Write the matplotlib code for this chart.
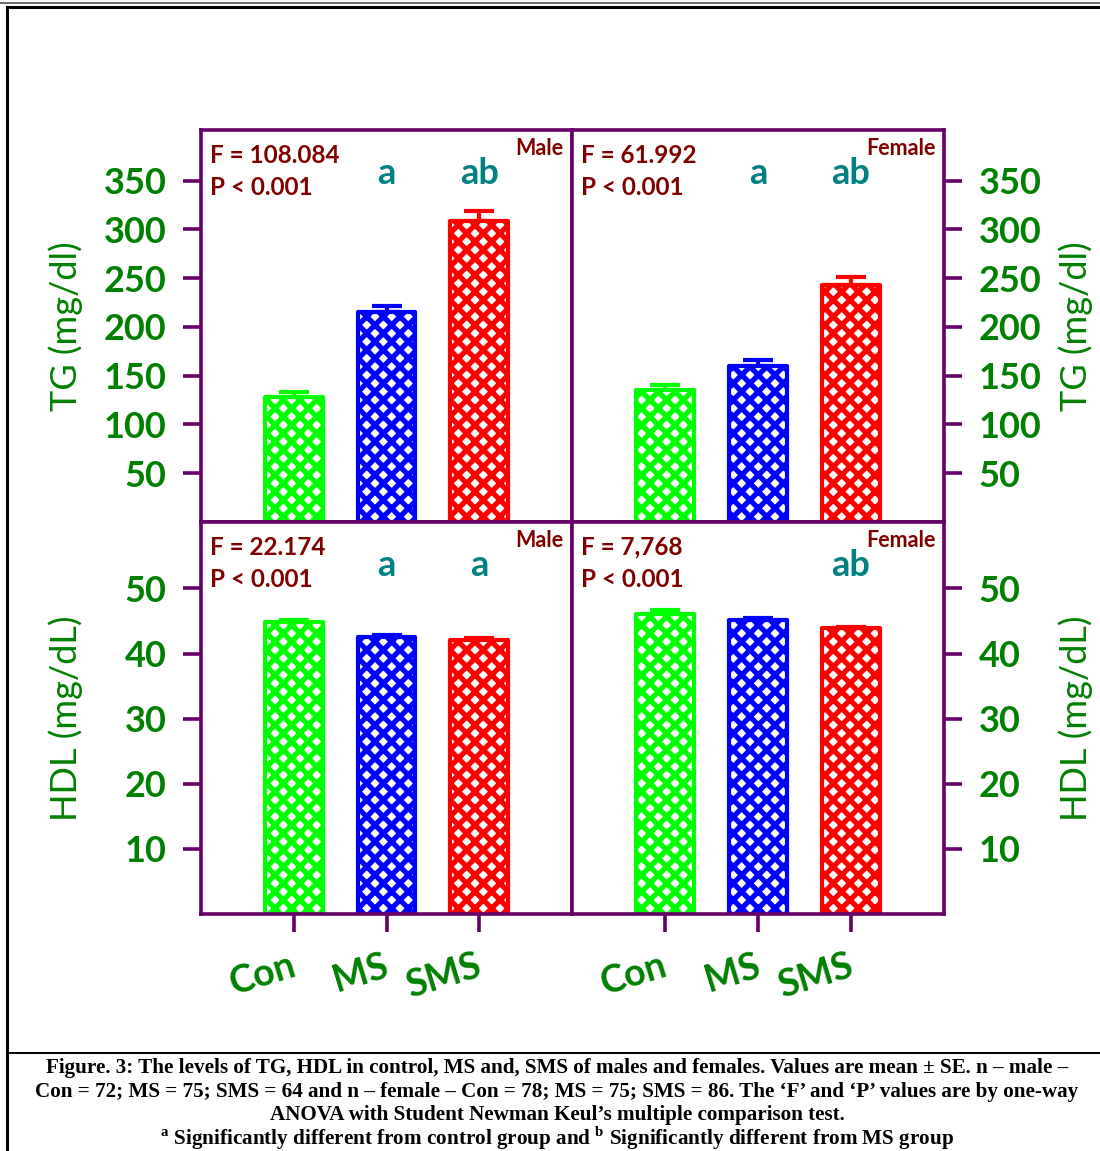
import matplotlib
matplotlib.use("Agg")
import matplotlib.pyplot as plt
import matplotlib.transforms as mtransforms
from matplotlib.lines import Line2D

# data
groups = ["Con", "MS", "SMS"]
bar_colors = ["#00ff00", "#0000ff", "#ff0000"]

tg_male = [128, 215, 309]
tg_male_se = [5, 7, 10]
tg_female = [135, 160, 243]
tg_female_se = [5, 6, 8]

hdl_male = [44.8, 42.6, 42.1]
hdl_male_se = [0.4, 0.3, 0.25]
hdl_female = [46.0, 45.2, 43.9]
hdl_female_se = [0.7, 0.25, 0.25]

sig_tg_male = ["", "a", "ab"]
sig_tg_female = ["", "a", "ab"]
sig_hdl_male = ["", "a", "a"]
sig_hdl_female = ["", "", "ab"]

stats_tg_male = ["F = 108.084", "P < 0.001"]
stats_tg_female = ["F = 61.992", "P < 0.001"]
stats_hdl_male = ["F = 22.174", "P < 0.001"]
stats_hdl_female = ["F = 7,768", "P < 0.001"]

tg_ticks = [50, 100, 150, 200, 250, 300, 350]
hdl_ticks = [10, 20, 30, 40, 50]

PURPLE = "#660066"
GREEN = "#008000"
DARKRED = "#800000"
TEAL = "#008080"

plt.rcParams["font.family"] = ["Lato", "DejaVu Sans"]
plt.rcParams["font.weight"] = "bold"
plt.rcParams["hatch.linewidth"] = 3.8
plt.rcParams["mathtext.fontset"] = "custom"
plt.rcParams["mathtext.rm"] = "Liberation Serif:bold"
plt.rcParams["mathtext.bf"] = "Liberation Serif:bold"

fig = plt.figure(figsize=(11, 11.51), dpi=100)

W, H = 1100, 1151
def box(x0, y0, x1, y1):
    return [x0 / W, 1 - y1 / H, (x1 - x0) / W, (y1 - y0) / H]

ax_tl = fig.add_axes(box(201, 130, 572, 522))
ax_tr = fig.add_axes(box(572, 130, 944, 522))
ax_bl = fig.add_axes(box(201, 522, 572, 914))
ax_br = fig.add_axes(box(572, 522, 944, 914))

x = [1, 2, 3]

def draw_panel(ax, vals, se, sig, stats, sex, ylim, yticks, side, bottom):
    for xi, v, s, c in zip(x, vals, se, bar_colors):
        ax.bar(xi, v, width=0.62, color="white", edgecolor=c, hatch="xx",
               linewidth=3, joinstyle="round", zorder=2)
        ax.errorbar(xi, v, yerr=[[0], [s]], fmt="none", ecolor=c,
                    elinewidth=3, capsize=11, capthick=3, zorder=1)
    ax.set_xlim(0, 4)
    ax.set_ylim(*ylim)
    for sp in ax.spines.values():
        sp.set_color(PURPLE)
        sp.set_linewidth(2.6)
    ax.set_yticks(yticks)
    ax.tick_params(axis="y", direction="out", length=13, width=2.6,
                   color=PURPLE, labelcolor=GREEN, labelsize=26, pad=12)
    if side == "left":
        ax.yaxis.tick_left()
    else:
        ax.yaxis.tick_right()
    if bottom:
        ax.set_xticks(x)
        ax.set_xticklabels(groups, rotation=17, ha="right", va="top")
        ax.tick_params(axis="x", direction="out", length=13, width=2.6,
                       color=PURPLE, labelcolor=GREEN, labelsize=27, pad=12)
        for lab in ax.get_xticklabels():
            lab.set_transform(lab.get_transform() +
                              mtransforms.ScaledTranslation(6 / 100, 0, fig.dpi_scale_trans))
    else:
        ax.set_xticks([])

    ax.text(0.025, 0.965, stats[0], transform=ax.transAxes, color=DARKRED,
            fontsize=17.5, va="top", ha="left")
    ax.text(0.025, 0.882, stats[1], transform=ax.transAxes, color=DARKRED,
            fontsize=17.5, va="top", ha="left")
    ax.text(0.978, 0.98, sex, transform=ax.transAxes, color=DARKRED,
            fontsize=15.5, va="top", ha="right")
    trans = mtransforms.blended_transform_factory(ax.transData, ax.transAxes)
    for xi, s in zip(x, sig):
        if s:
            ax.text(xi, 0.89, s, transform=trans, color=TEAL, fontsize=26,
                    ha="center", va="center")

draw_panel(ax_tl, tg_male, tg_male_se, sig_tg_male, stats_tg_male, "Male",
           (0, 402), tg_ticks, "left", False)
draw_panel(ax_tr, tg_female, tg_female_se, sig_tg_female, stats_tg_female, "Female",
           (0, 402), tg_ticks, "right", False)
draw_panel(ax_bl, hdl_male, hdl_male_se, sig_hdl_male, stats_hdl_male, "Male",
           (0, 60.2), hdl_ticks, "left", True)
draw_panel(ax_br, hdl_female, hdl_female_se, sig_hdl_female, stats_hdl_female, "Female",
           (0, 60.2), hdl_ticks, "right", True)

for ax, lab in [(ax_tl, "TG (mg/dl)"), (ax_bl, "HDL (mg/dL)")]:
    ax.set_ylabel(lab, color=GREEN, fontsize=26)
    ax.yaxis.set_label_coords(-0.318, 0.5)
for ax, lab in [(ax_tr, "TG (mg/dl)"), (ax_br, "HDL (mg/dL)")]:
    ax.set_ylabel(lab, color=GREEN, fontsize=26)
    ax.yaxis.set_label_position("right")
    ax.yaxis.set_label_coords(1.308, 0.5)

# page frame
fig.add_artist(Line2D([0, 1], [1 - 2.5 / H, 1 - 2.5 / H], color="#555555", lw=1.2))
fig.add_artist(Line2D([7 / W, 1], [1 - 7 / H, 1 - 7 / H], color="black", lw=2.2))
fig.add_artist(Line2D([7 / W, 7 / W], [0, 1 - 7 / H], color="black", lw=2.2))
fig.add_artist(Line2D([7 / W, 1], [1 - 1053 / H, 1 - 1053 / H], color="black", lw=1.4))

caption = [
    "Figure. 3: The levels of TG, HDL in control, MS and, SMS of males and females. Values are mean \u00b1 SE. n \u2013 male \u2013",
    "Con = 72; MS = 75; SMS = 64 and n \u2013 female \u2013 Con = 78; MS = 75; SMS = 86. The \u2018F\u2019 and \u2018P\u2019 values are by one-way",
    "ANOVA with Student Newman Keul\u2019s multiple comparison test.",
    r"$^{\mathbf{a}}$ Significantly different from control group and $^{\mathbf{b}}$ Significantly different from MS group",
]
for i, line in enumerate(caption):
    fig.text(557 / W, 1 - (1068 + 23.5 * i) / H, line, ha="center", va="center",
             family="Liberation Serif", fontweight="bold", fontsize=15.2)

fig.savefig("out.png", dpi=100)
